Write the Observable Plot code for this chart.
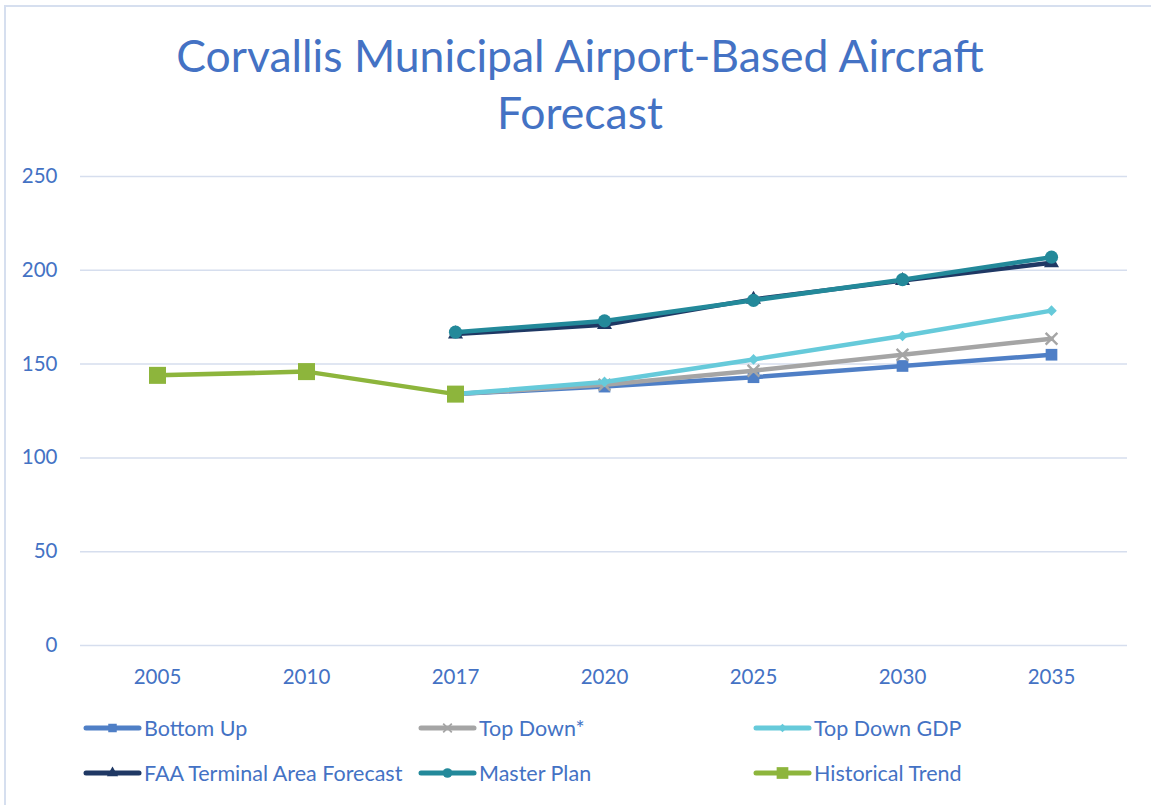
<!DOCTYPE html>
<html><head><meta charset="utf-8">
<script src="https://cdn.jsdelivr.net/npm/d3@7"></script>
<script src="https://cdn.jsdelivr.net/npm/@observablehq/plot@0.6"></script>
<style>
body{margin:0;background:#fff;font-family:Lato,"Open Sans",sans-serif;}
#frame{position:relative;width:1151px;height:805px;overflow:hidden;background:#fff;}
#border{position:absolute;left:4px;top:5px;width:1200px;height:900px;border-top:2px solid #D6DFEF;border-left:2px solid #D6DFEF;}
#title{position:absolute;left:0;width:1160px;top:26px;text-align:center;color:#4472C4;font-size:44.5px;line-height:57px;}
#chart{position:absolute;left:0;top:150px;}
.item{position:absolute;height:24px;display:flex;align-items:center;color:#4472C4;font-size:21.5px;white-space:nowrap;}
.item svg{margin-right:2px;}
</style></head>
<body>
<div id="frame">
  <div id="border"></div>
  <div id="title">Corvallis Municipal Airport-Based Aircraft<br>Forecast</div>
  <div id="chart"></div>
  <div id="legend"></div>
</div>
<script>
const years = ["2005","2010","2017","2020","2025","2030","2035"];
const seriesNames = ["Bottom Up","Top Down*","Top Down GDP","FAA Terminal Area Forecast","Master Plan","Historical Trend"];
const bottomUp   = [null, null, 134, 138, 143, 149, 155];
const topDown    = [null, null, 134, 139, 146.5, 155, 163.5];
const topDownGDP = [null, null, 134, 140.5, 152.5, 165, 178.5];
const faa        = [null, null, 166, 171, 184.5, 194.5, 204];
const masterPlan = [null, null, 167, 173, 184, 195, 207];
const historical = [144, 146, 134, null, null, null, null];
const yTicks = [0, 50, 100, 150, 200, 250];

const colors = ["#4F7FC6","#A5A5A5","#66CADA","#1F3864","#23899A","#8DB53C"];
const symbols = ["square","times","diamond2","triangle","circle","square"];
const sizes = [6.6, 5.4, 4.8, 5.6, 6.6, 9.6];
const valuesList = [bottomUp, topDown, topDownGDP, faa, masterPlan, historical];

const text = "#4472C4";
const marks = [
  Plot.gridY(yTicks, {stroke: "#D6DEEE", strokeOpacity: 1, strokeWidth: 1.5})
];
seriesNames.forEach((name, k) => {
  const data = years.map((y, i) => ({year: y, value: valuesList[k][i]})).filter(d => d.value != null);
  marks.push(Plot.line(data, {x: "year", y: "value", stroke: colors[k], strokeWidth: 4.5, strokeLinejoin: "round", strokeLinecap: "round"}));
  const isStroke = symbols[k] === "times";
  marks.push(Plot.dot(data, {
    x: "year", y: "value", symbol: () => symbols[k], r: sizes[k],
    fill: isStroke ? "none" : colors[k],
    stroke: isStroke ? colors[k] : "none",
    strokeWidth: isStroke ? 2.4 : 0
  }));
});
marks.push(Plot.axisY(yTicks, {tickSize: 0, tickPadding: 23, fontSize: 20.5, fill: text}));
marks.push(Plot.axisX({tickSize: 0, tickPadding: 24, fontSize: 20.5, fill: text}));

const chart = Plot.plot({
  width: 1151, height: 560,
  marginTop: 26, marginBottom: 65, marginLeft: 80, marginRight: 24,
  style: {fontFamily: "Lato, 'Open Sans', sans-serif", background: "transparent", overflow: "visible"},
  x: {type: "point", domain: years, padding: 0.5, label: null},
  y: {domain: [0, 250], label: null},
  symbol: {type: "identity"},
  marks
});
document.getElementById("chart").appendChild(chart);

// legend
const legend = document.getElementById("legend");
const legSizes = [4.8, 4, 3.8, 4.2, 4.8, 6.6];
seriesNames.forEach((name, k) => {
  const col = k % 3, row = Math.floor(k / 3);
  const div = document.createElement("div");
  div.className = "item";
  div.style.left = (83 + col * 335) + "px";
  div.style.top = (716 + row * 45) + "px";
  const svg = d3.create("svg").attr("width", 59).attr("height", 20);
  svg.append("line").attr("x1", 3).attr("x2", 56).attr("y1", 10).attr("y2", 10)
    .attr("stroke", colors[k]).attr("stroke-width", 5).attr("stroke-linecap", "round");
  const symMap = {square: d3.symbolSquare, times: d3.symbolTimes, diamond2: d3.symbolDiamond2, triangle: d3.symbolTriangle, circle: d3.symbolCircle};
  const r = legSizes[k];
  const path = svg.append("path").attr("transform", "translate(29.5,10)")
    .attr("d", d3.symbol(symMap[symbols[k]], Math.PI * r * r)());
  if (symbols[k] === "times") path.attr("fill", "none").attr("stroke", colors[k]).attr("stroke-width", 1.8);
  else path.attr("fill", colors[k]);
  div.appendChild(svg.node());
  const span = document.createElement("span");
  span.textContent = name;
  div.appendChild(span);
  legend.appendChild(div);
});
</script>
</body></html>
